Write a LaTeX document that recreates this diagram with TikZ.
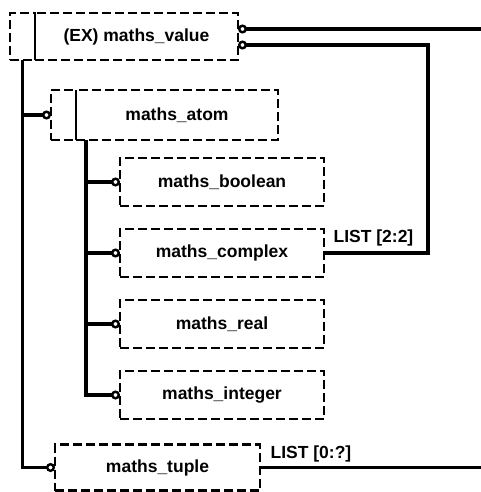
\documentclass[tikz,border=0pt]{standalone}
\usepackage{fontspec}
\setmainfont{Liberation Sans}
\usetikzlibrary{positioning, arrows.meta}

\begin{document}
\begin{tikzpicture}[
    x=1pt, y=-1pt,
    node distance=71pt,
    on grid,
    selbox/.style={
        draw,
        dash pattern=on 9pt off 4pt,
        line width=2.4pt,
        minimum width=204pt,
        minimum height=48pt,
        inner sep=0pt,
        outer sep=0pt,
        font=\bfseries\fontsize{17.5}{20}\selectfont
    },
    tagbox/.style={
        draw,
        dash pattern=on 9pt off 4pt,
        line width=2.4pt,
        minimum width=25pt,
        inner sep=0pt,
        outer sep=0pt
    },
    link/.style={line width=3.2pt},
    ringend/.style={-{Circle[open, length=9pt, width=9pt, line width=2.4pt]}},
    ringstart/.style={{Circle[open, length=9pt, width=9pt, line width=2.4pt]}-},
    lbl/.style={inner sep=1pt, font=\bfseries\fontsize{17.5}{20}\selectfont}
]
\useasboundingbox[fill=white] (0,0) rectangle (481,492);

% select types
\node[selbox, minimum width=203pt, minimum height=47pt] (value) at (136.5,36.5) {(EX) maths\_value};
\node[tagbox, minimum height=47pt, anchor=east] (valuetag) at (value.west) {};
\draw[line width=2.4pt] (value.north west) -- (value.south west);

\node[selbox, minimum width=202pt, minimum height=50pt] (atom) at (177,115) {maths\_atom};
\node[tagbox, minimum height=50pt, anchor=east] (atomtag) at (atom.west) {};
\draw[line width=2.4pt] (atom.north west) -- (atom.south west);

\node[selbox] (boolean) at (222,182) {maths\_boolean};
\node[selbox, below=of boolean] (complex) {maths\_complex};
\node[selbox, below=of complex] (real) {maths\_real};
\node[selbox, below=of real] (integer) {maths\_integer};

\node[selbox, minimum width=205pt, minimum height=46pt] (tuple) at (157.5,467.5) {maths\_tuple};

% page edge and bends
\coordinate (rim) at (481,0);
\coordinate (bend) at (428,0);
\coordinate (atomfoot) at ([xshift=10pt]atom.south west);

% connectors
\draw[link, ringend] (valuetag.south) |- (tuple.west);
\draw[link, ringend] (valuetag.south |- atomtag.west) -- (atomtag.west);

\draw[link, ringend] (atomfoot) |- (integer.west);
\foreach \t in {boolean, complex, real}
    \draw[link, ringend] (atomfoot |- \t.west) -- (\t.west);

\draw[link, ringstart] ([yshift=7.5pt]value.east) -- ([yshift=7.5pt]value.east -| rim);
\draw[link, ringstart] ([yshift=-8.5pt]value.east) -| (bend |- complex.east) -- (complex.east)
    node[lbl, anchor=south west, xshift=7pt, yshift=4pt] {LIST [2:2]};
\draw[link] (tuple.east) -- (tuple.east -| rim)
    node[lbl, pos=0, anchor=south west, xshift=8pt, yshift=3pt] {LIST [0:?]};
\end{tikzpicture}
\end{document}
